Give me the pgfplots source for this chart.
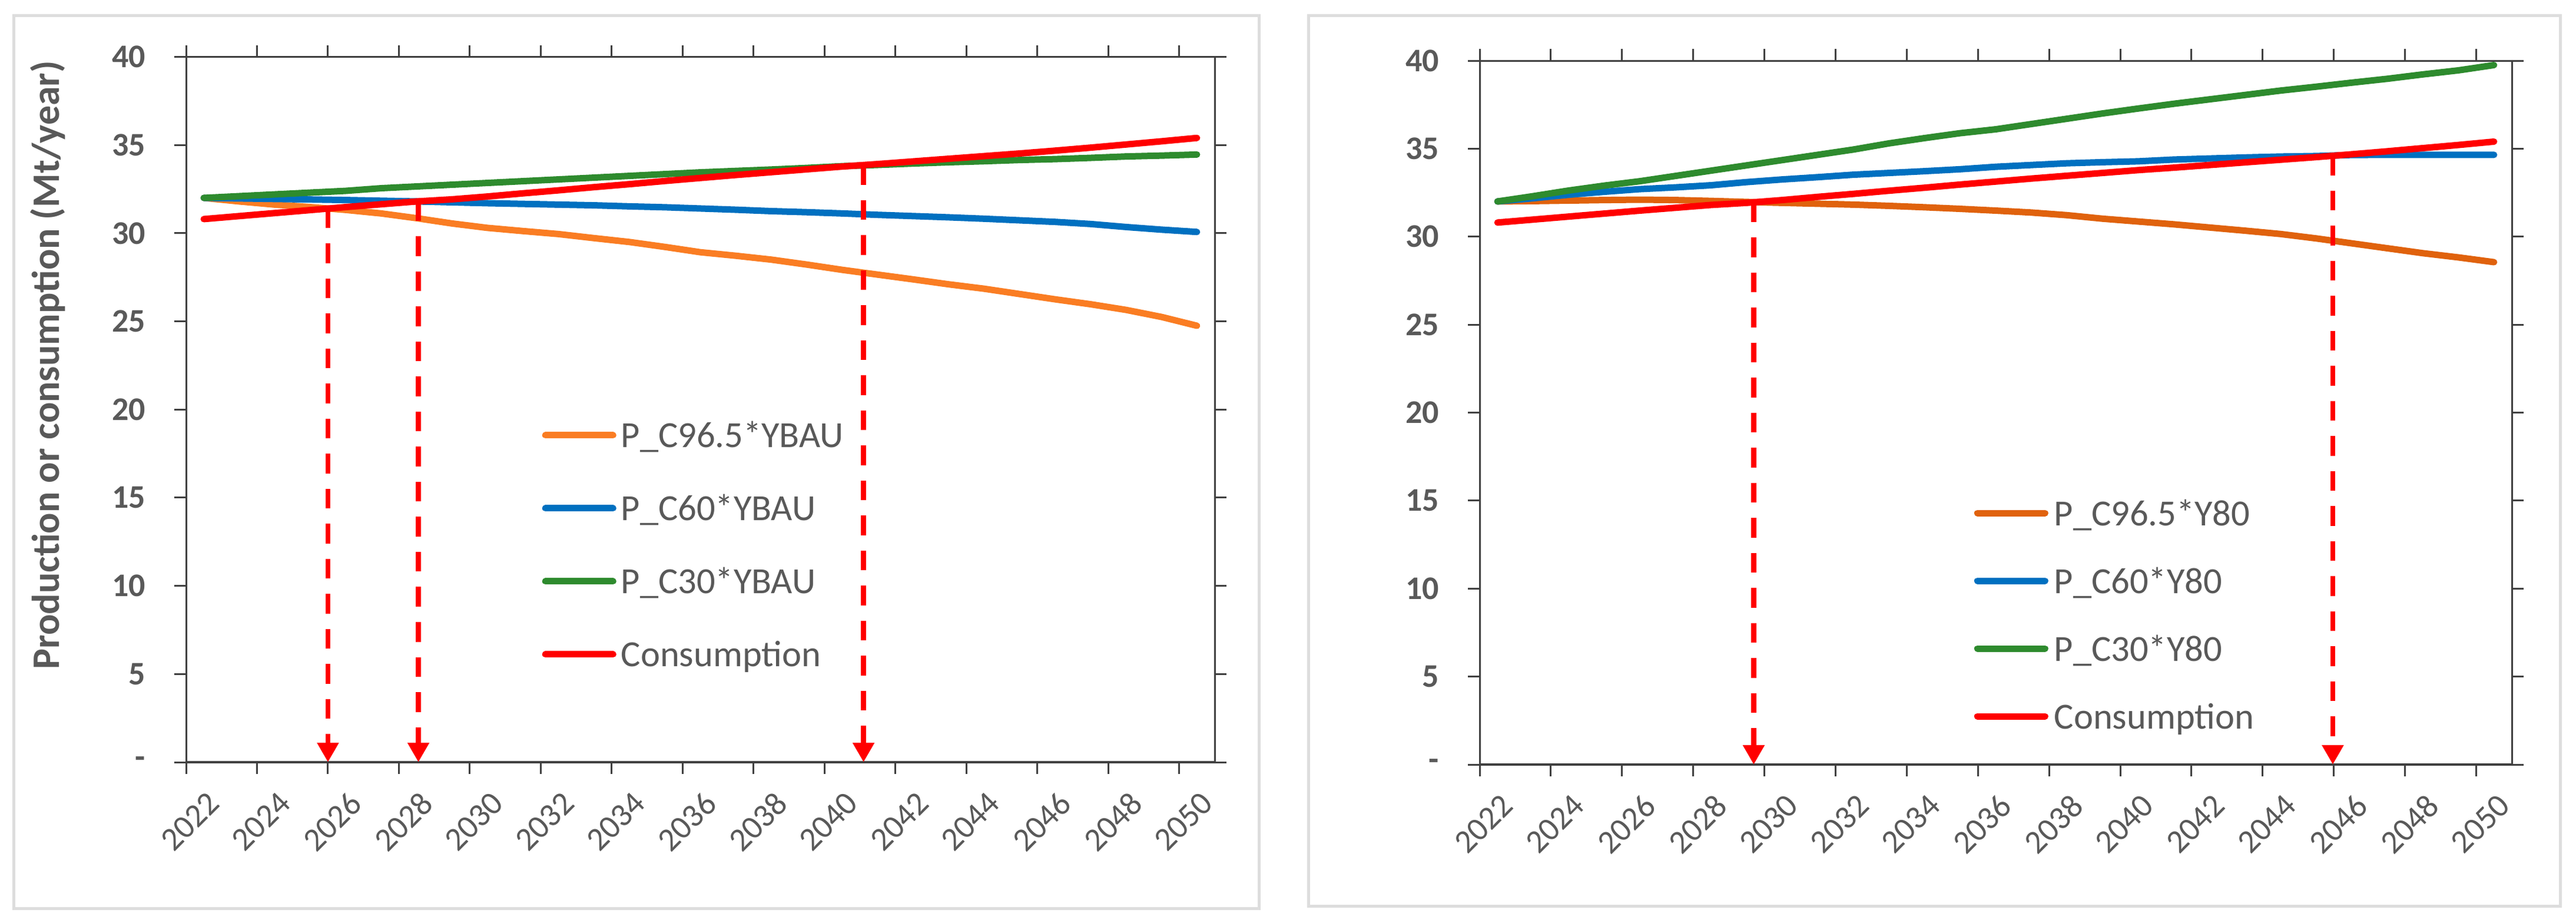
\documentclass[border=0pt]{standalone}
\usepackage{fontspec}
\setmainfont{Carlito}
\usepackage{pgfplots}
\usepackage{pgfplotstable}
\pgfplotsset{compat=1.18}
\usetikzlibrary{arrows.meta}

\definecolor{txt}{HTML}{595959}
\definecolor{axln}{HTML}{404040}
\definecolor{orgA}{HTML}{FA7D23}
\definecolor{orgB}{HTML}{E0620D}
\definecolor{blu}{HTML}{0070C0}
\definecolor{grn}{HTML}{2E8B2E}
\definecolor{frame}{HTML}{DDDDDD}

% year, P_C96.5, P_C60, P_C30, consumption
\pgfplotstableread{
year o b g c
2022 32.00 32.00 32.00 30.80
2023 31.80 31.97 32.10 30.97
2024 31.62 31.94 32.20 31.14
2025 31.48 31.91 32.30 31.31
2026 31.32 31.88 32.40 31.48
2027 31.12 31.84 32.55 31.64
2028 30.85 31.80 32.65 31.80
2029 30.55 31.75 32.75 31.92
2030 30.30 31.70 32.85 32.08
2031 30.12 31.66 32.95 32.26
2032 29.95 31.62 33.05 32.43
2033 29.72 31.58 33.15 32.61
2034 29.50 31.52 33.25 32.78
2035 29.22 31.47 33.35 32.96
2036 28.92 31.40 33.45 33.13
2037 28.72 31.33 33.53 33.30
2038 28.50 31.25 33.61 33.46
2039 28.22 31.19 33.70 33.62
2040 27.92 31.12 33.80 33.78
2041 27.65 31.04 33.87 33.92
2042 27.38 30.97 33.95 34.07
2043 27.10 30.90 34.02 34.22
2044 26.85 30.82 34.08 34.37
2045 26.55 30.73 34.15 34.52
2046 26.25 30.64 34.20 34.68
2047 25.97 30.52 34.27 34.85
2048 25.65 30.35 34.35 35.03
2049 25.25 30.20 34.40 35.21
2050 24.75 30.07 34.46 35.40
}\bau

\pgfplotstableread{
year o b g c
2022 32.00 32.00 32.00 30.80
2023 32.02 32.18 32.30 30.97
2024 32.05 32.38 32.62 31.14
2025 32.08 32.55 32.90 31.31
2026 32.10 32.70 33.15 31.48
2027 32.08 32.80 33.45 31.64
2028 32.03 32.92 33.75 31.80
2029 31.97 33.10 34.05 31.92
2030 31.92 33.25 34.35 32.08
2031 31.87 33.38 34.65 32.26
2032 31.82 33.52 34.95 32.43
2033 31.75 33.62 35.30 32.61
2034 31.67 33.72 35.60 32.78
2035 31.58 33.83 35.88 32.96
2036 31.48 33.97 36.10 33.13
2037 31.37 34.07 36.40 33.30
2038 31.22 34.17 36.70 33.46
2039 31.02 34.23 37.00 33.62
2040 30.86 34.28 37.28 33.78
2041 30.70 34.38 37.55 33.92
2042 30.52 34.44 37.80 34.07
2043 30.34 34.50 38.05 34.22
2044 30.15 34.55 38.30 34.37
2045 29.90 34.58 38.52 34.52
2046 29.62 34.64 38.75 34.68
2047 29.34 34.65 38.97 34.85
2048 29.06 34.65 39.22 35.03
2049 28.82 34.65 39.45 35.21
2050 28.55 34.65 39.75 35.40
}\yeighty

\tikzset{
  arr/.style={red, line width=1.7pt, dash pattern=on 6.7pt off 5.2pt,
    -{Triangle[width=7pt,length=6.6pt]}},
}

\pgfplotsset{
  panel/.style={
    scale only axis,
    xmin=2022, xmax=2051, ymin=0, ymax=40,
    xtick={2022,2024,...,2050},
    xticklabels={2022,2024,2026,2028,2030,2032,2034,2036,2038,2040,2042,2044,2046,2048,2050},
    ytick={0,5,...,40},
    yticklabels={-,5,10,15,20,25,30,35,40},
    tick align=outside,
    major tick length=4pt,
    tick style={axln, line width=0.6pt},
    axis line style={axln, line width=0.6pt},
    xticklabel style={font=\fontsize{11.2}{13}\selectfont, text=txt, inner sep=0pt,
      xshift=6.8pt, rotate=45, anchor=north east},
    xticklabel shift=5.2pt,
    yticklabel style={font=\bfseries\fontsize{11.2}{13}\selectfont, text=txt, inner sep=0pt},
    yticklabel shift=9.6pt,
    legend style={draw=none, fill=none, inner sep=0pt, anchor=north west,
      font=\fontsize{12.5}{15}\selectfont, text=txt,
      nodes={inner sep=0pt, text height=11pt, text depth=2.6pt}},
    legend cell align=left,
    legend image code/.code={\draw[#1] (0pt,0pt) -- (23pt,0pt);},
    clip=false,
  },
  dataline/.style={line width=2.2pt, line cap=round, line join=round, no marks},
}

\begin{document}
\begin{tikzpicture}
\useasboundingbox (0,0) rectangle (875pt,313.2pt);
\draw[frame, line width=1pt] (4.6pt,4.8pt) rectangle (427.6pt,307.8pt);
\draw[frame, line width=1pt] (444.4pt,5.6pt) rectangle (869.6pt,307.8pt);

\begin{axis}[panel, at={(63.2pt,54.4pt)}, anchor=south west,
  width=349.4pt, height=239.5pt,
  ylabel={Production or consumption (Mt/year)},
  ylabel style={font=\bfseries\fontsize{13.2}{15}\selectfont, text=txt,
    at={(axis description cs:-0.1345,0.563)}, anchor=center},
  legend style={at={(rel axis cs:0.3456,0.4927)}, row sep=11.2pt, column sep=1.6pt}]
  \addplot[dataline, orgA] table[x expr=\thisrow{year}+0.5, y=o] {\bau};
  \addplot[dataline, blu] table[x expr=\thisrow{year}+0.5, y=b] {\bau};
  \addplot[dataline, grn] table[x expr=\thisrow{year}+0.5, y=g] {\bau};
  \addplot[dataline, red] table[x expr=\thisrow{year}+0.5, y=c] {\bau};
  \legend{P\_C96.5*YBAU, P\_C60*YBAU, P\_C30*YBAU, Consumption}
  \draw[axln, line width=0.9pt] (rel axis cs:0,0) -- (rel axis cs:1,0);
  \draw[arr] (axis cs:2026,31.40) -- (axis cs:2026,0);
  \draw[arr] (axis cs:2028.55,31.80) -- (axis cs:2028.55,0);
  \draw[arr] (axis cs:2041.1,33.86) -- (axis cs:2041.1,0);
\end{axis}

\begin{axis}[panel, at={(502.6pt,53.6pt)}, anchor=south west,
  width=350.6pt, height=239pt,
  legend style={at={(rel axis cs:0.4785,0.3866)}, row sep=9.4pt, column sep=2pt}]
  \addplot[dataline, orgB] table[x expr=\thisrow{year}+0.5, y=o] {\yeighty};
  \addplot[dataline, blu] table[x expr=\thisrow{year}+0.5, y=b] {\yeighty};
  \addplot[dataline, grn] table[x expr=\thisrow{year}+0.5, y=g] {\yeighty};
  \addplot[dataline, red] table[x expr=\thisrow{year}+0.5, y=c] {\yeighty};
  \legend{P\_C96.5*Y80, P\_C60*Y80, P\_C30*Y80, Consumption}
  \draw[axln, line width=0.9pt] (rel axis cs:0,0) -- (rel axis cs:1,0);
  \draw[arr] (axis cs:2029.7,31.95) -- (axis cs:2029.7,0);
  \draw[arr] (axis cs:2045.97,34.6) -- (axis cs:2045.97,0);
\end{axis}
\end{tikzpicture}
\end{document}
